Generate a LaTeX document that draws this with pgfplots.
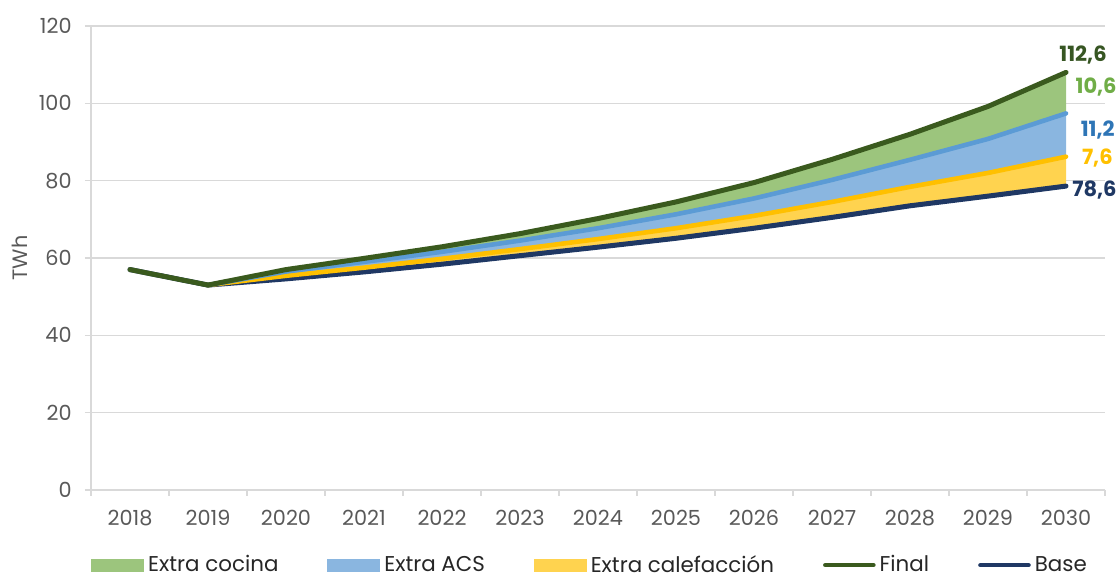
\documentclass[border=0pt]{standalone}
\usepackage{fontspec}
\setmainfont{Poppins}
\usepackage{pgfplots}
\usepackage{pgfplotstable}
\pgfplotsset{compat=1.18}
\usepgfplotslibrary{fillbetween}

\definecolor{cookfill}{HTML}{9CC57D}
\definecolor{acsfill}{HTML}{8AB6E0}
\definecolor{heatfill}{HTML}{FFD34F}
\definecolor{finalcol}{HTML}{3A5A1E}
\definecolor{basecol}{HTML}{1F3864}
\definecolor{acscol}{HTML}{5B9BD5}
\definecolor{heatcol}{HTML}{FFC000}
\definecolor{cooklab}{HTML}{70AD47}
\definecolor{acslab}{HTML}{2E75B6}
\definecolor{finallab}{HTML}{375623}
\definecolor{gridgray}{HTML}{D9D9D9}
\definecolor{ticktext}{HTML}{595959}
\definecolor{legtext}{HTML}{262626}

% Demand (TWh); x = 0 is 2018
\pgfplotstableread{
x  base  final
0  57.0  57.0
1  53.0  53.0
2  54.6  57.0
3  56.4  59.9
4  58.4  62.9
5  60.6  66.3
6  62.8  70.2
7  65.1  74.5
8  67.7  79.5
9  70.5  85.5
10 73.5  92.0
11 76.0  99.2
12 78.6  108.0
}\demandlines

% Extra demand on top of the base scenario
\pgfplotstableread{
x  base  heat  acs   cook
1  53.0  0.0   0.0   0.0
2  54.6  0.8   1.1   0.5
3  56.4  1.1   1.5   0.9
4  58.4  1.4   1.8   1.3
5  60.6  1.7   2.2   1.8
6  62.8  2.1   2.8   2.5
7  65.1  2.6   3.6   3.2
8  67.7  3.2   4.5   4.1
9  70.5  4.0   5.7   5.3
10 73.5  4.9   7.0   6.6
11 76.0  6.0   8.8   8.4
12 78.6  7.6   11.2  10.6
}\demandextras

\begin{document}
\begin{tikzpicture}
\begin{axis}[
  scale only axis,
  width=507pt, height=232pt,
  xmin=-0.5, xmax=12.5,
  ymin=0, ymax=120,
  ytick={0,20,...,120},
  xtick={0,...,12},
  xticklabels={2018,2019,2020,2021,2022,2023,2024,2025,2026,2027,2028,2029,2030},
  minor xtick={-0.5,0.5,...,12.5},
  axis x line*=bottom,
  axis y line*=left,
  axis line style={gridgray, line width=0.75pt, -},
  tick align=outside,
  major tick length=3pt,
  minor tick length=3pt,
  major x tick style={draw=none},
  minor x tick style={gridgray, line width=0.75pt},
  ytick style={gridgray, line width=0.75pt},
  ymajorgrids,
  grid style={gridgray, line width=0.6pt},
  /pgf/number format/assume math mode=true,
  tick label style={font=\fontsize{10.4}{12}\selectfont, text=ticktext},
  yticklabel style={inner sep=0pt, anchor=east, xshift=-6.5pt},
  xticklabel style={inner sep=0pt, anchor=north, yshift=-7pt},
  ylabel={TWh},
  every axis y label/.style={at={(axis description cs:-0.07,0.5)}, rotate=90, anchor=center,
    font=\fontsize{10.4}{12}\selectfont, text=ticktext},
  clip=false,
  legend columns=5,
  legend style={at={(axis description cs:0,-0.162)}, anchor=west, draw=none, fill=none,
    inner sep=0pt, font=\fontsize{10.7}{12}\selectfont, text=legtext,
    /tikz/every even column/.append style={column sep=22.5pt},
    /tikz/every odd column/.append style={column sep=0pt}},
  legend cell align=left,
]
% invisible boundaries of the stacked bands
\addplot[draw=none, forget plot, name path=b] table[x=x, y=base]{\demandextras};
\addplot[draw=none, forget plot, name path=h] table[x=x, y expr=\thisrow{base}+\thisrow{heat}]{\demandextras};
\addplot[draw=none, forget plot, name path=a] table[x=x, y expr=\thisrow{base}+\thisrow{heat}+\thisrow{acs}]{\demandextras};
\addplot[draw=none, forget plot, name path=c] table[x=x, y expr=\thisrow{base}+\thisrow{heat}+\thisrow{acs}+\thisrow{cook}]{\demandextras};

% bands
\addplot[fill=heatfill, draw=none, forget plot] fill between[of=h and b];
\addplot[fill=acsfill, draw=none, forget plot] fill between[of=a and h];
\addplot[fill=cookfill, draw=none, forget plot] fill between[of=c and a];

% lines
\addplot[color=basecol, line width=2.5pt, line join=round, line cap=round, forget plot] table[x=x, y=base]{\demandlines};
\addplot[color=heatcol, line width=2.3pt, line join=round, line cap=round, forget plot] table[x=x, y expr=\thisrow{base}+\thisrow{heat}]{\demandextras};
\addplot[color=acscol, line width=2.3pt, line join=round, line cap=round, forget plot] table[x=x, y expr=\thisrow{base}+\thisrow{heat}+\thisrow{acs}]{\demandextras};
\addplot[color=finalcol, line width=2.5pt, line join=round, line cap=round, forget plot] table[x=x, y=final]{\demandlines};

% legend
\addlegendimage{legend image code/.code={\fill[cookfill] (0pt,-3pt) rectangle (26pt,3pt);}}
\addlegendentry{Extra cocina}
\addlegendimage{legend image code/.code={\fill[acsfill] (0pt,-3pt) rectangle (26pt,3pt);}}
\addlegendentry{Extra ACS}
\addlegendimage{legend image code/.code={\fill[heatfill] (0pt,-3pt) rectangle (26pt,3pt);}}
\addlegendentry{Extra calefacción}
\addlegendimage{legend image code/.code={\draw[finalcol, line width=2.3pt, line cap=round] (1pt,0pt) -- (25pt,0pt);}}
\addlegendentry{Final}
\addlegendimage{legend image code/.code={\draw[basecol, line width=2.3pt, line cap=round] (1pt,0pt) -- (25pt,0pt);}}
\addlegendentry{Base}

% end-of-period labels
\begin{scope}[every node/.style={inner sep=0pt, anchor=east, font=\fontsize{10.5}{12}\selectfont\bfseries}]
\node[text=finallab] at (axis cs:12.526,112.5) {112,6};
\node[text=cooklab]  at (axis cs:12.654,104.2) {10,6};
\node[text=acslab]   at (axis cs:12.628,93.1) {11,2};
\node[text=heatcol]  at (axis cs:12.603,85.9) {7,6};
\node[text=basecol]  at (axis cs:12.654,77.6) {78,6};
\end{scope}
\end{axis}
% fixed page frame around the axis box
\pgfresetboundingbox
\path (-45.5pt,-44pt) rectangle (514.5pt,245pt);
\end{tikzpicture}
\end{document}
